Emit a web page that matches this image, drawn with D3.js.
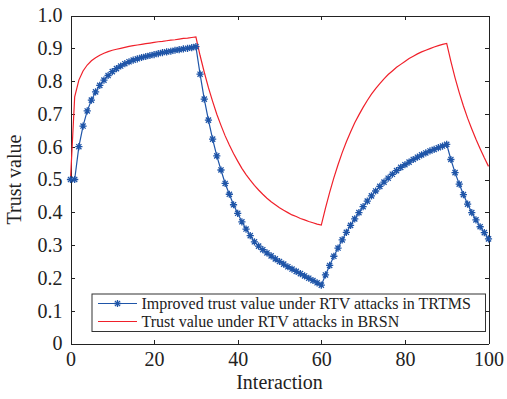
<!DOCTYPE html>
<meta charset="utf-8">
<style>
body { margin: 0; background: #fff; }
.axis text { font: 20px "Liberation Serif", "Times New Roman", serif; fill: #222; }
.axis path, .axis line { fill: none; stroke: #222; shape-rendering: crispEdges; }
.label { font: 20px "Liberation Serif", "Times New Roman", serif; fill: #222; }
.legend text { font: 16px "Liberation Serif", "Times New Roman", serif; fill: #222; }
</style>
<body>
<div id="chart"></div>
<script src="https://d3js.org/d3.v7.min.js"></script>
<script>
// interaction index 0..100
var interaction = d3.range(0, 101);

var improvedTrust = [
  0.500,0.500,0.600,0.663,0.709,0.742,0.767,0.787,0.803,0.817,0.829,0.838,0.846,0.853,0.859,0.864,
  0.868,0.872,0.875,0.878,0.881,0.884,0.887,0.889,0.891,0.894,0.896,0.898,0.900,0.902,0.905,
  0.821,0.745,0.681,0.623,0.572,0.529,0.488,0.455,0.423,0.397,0.371,0.349,0.329,0.310,0.297,
  0.286,0.276,0.267,0.258,0.250,0.242,0.234,0.227,0.220,0.213,0.206,0.199,0.192,0.185,0.178,
  0.209,0.238,0.266,0.291,0.316,0.339,0.360,0.380,0.399,0.417,0.434,0.450,0.465,0.479,0.492,
  0.504,0.516,0.527,0.537,0.545,0.553,0.561,0.568,0.575,0.581,0.587,0.592,0.597,0.602,0.607,
  0.561,0.521,0.486,0.454,0.425,0.399,0.377,0.356,0.338,0.319
];

var brsnTrust = [
  0.500,0.752,0.803,0.831,0.849,0.862,0.871,0.879,0.885,0.890,0.894,0.897,0.900,0.903,0.906,0.908,
  0.910,0.912,0.914,0.916,0.918,0.920,0.921,0.923,0.925,0.926,0.928,0.930,0.931,0.933,0.935,
  0.878,0.827,0.780,0.738,0.699,0.665,0.633,0.605,0.579,0.556,0.534,0.515,0.498,0.482,0.468,
  0.455,0.443,0.432,0.423,0.414,0.406,0.399,0.392,0.387,0.381,0.377,0.372,0.368,0.364,0.361,
  0.413,0.461,0.505,0.545,0.582,0.615,0.645,0.673,0.697,0.720,0.741,0.760,0.777,0.792,0.807,
  0.820,0.831,0.842,0.851,0.860,0.869,0.876,0.883,0.889,0.894,0.899,0.904,0.908,0.912,0.915,
  0.860,0.810,0.765,0.724,0.687,0.654,0.623,0.594,0.566,0.540
];

var xTicks = [0, 20, 40, 60, 80, 100];
var yTicks = [0, 0.1, 0.2, 0.3, 0.4, 0.5, 0.6, 0.7, 0.8, 0.9, 1.0];
var seriesNames = ["Improved trust value under RTV attacks in TRTMS", "Trust value under RTV attacks in BRSN"];

var blue = "#1f55a8", red = "#f0202a";

var margin = {top: 15.5, right: 18.5, bottom: 55.5, left: 70.5},
    width = 507 - margin.left - margin.right,
    height = 399 - margin.top - margin.bottom;

var svg = d3.select("#chart").append("svg")
    .attr("width", 507).attr("height", 399)
  .append("g")
    .attr("transform", "translate(" + margin.left + "," + margin.top + ")");

var x = d3.scaleLinear().domain([0, 100]).range([0, width]);
var y = d3.scaleLinear().domain([0, 1]).range([height, 0]);

var yFmt = function(d) { return d === 0 ? "0" : d.toFixed(1); };

// axes, ticks pointing inward
svg.append("g").attr("class", "axis")
    .attr("transform", "translate(0," + height + ")")
    .call(d3.axisBottom(x).tickValues(xTicks).tickSizeInner(-4).tickSizeOuter(0).tickPadding(8));
svg.append("g").attr("class", "axis")
    .call(d3.axisTop(x).tickValues(xTicks).tickSizeInner(-4).tickSizeOuter(0).tickFormat(""));
svg.append("g").attr("class", "axis")
    .call(d3.axisLeft(y).tickValues(yTicks).tickFormat(yFmt).tickSizeInner(-4).tickSizeOuter(0).tickPadding(8));
svg.append("g").attr("class", "axis")
    .attr("transform", "translate(" + width + ",0)")
    .call(d3.axisRight(y).tickValues(yTicks).tickSizeInner(-4).tickSizeOuter(0).tickFormat(""));

var line = d3.line()
    .x(function(d, i) { return x(interaction[i]); })
    .y(function(d) { return y(d); });

svg.append("path").datum(brsnTrust)
    .attr("fill", "none").attr("stroke", red).attr("stroke-width", 1.2)
    .attr("d", line);

svg.append("path").datum(improvedTrust)
    .attr("fill", "none").attr("stroke", blue).attr("stroke-width", 1.2)
    .attr("d", line);

// asterisk marker (plus + x)
var s = 3.6, t = s * 0.72;
var star = "M" + (-s) + ",0L" + s + ",0M0," + (-s) + "L0," + s +
           "M" + (-t) + "," + (-t) + "L" + t + "," + t + "M" + (-t) + "," + t + "L" + t + "," + (-t);

svg.selectAll(".mark")
    .data(improvedTrust)
  .enter().append("path")
    .attr("class", "mark")
    .attr("transform", function(d, i) { return "translate(" + x(interaction[i]) + "," + y(d) + ")"; })
    .attr("d", star)
    .attr("fill", "none").attr("stroke", blue).attr("stroke-width", 1.3);

// axis labels
svg.append("text").attr("class", "label")
    .attr("text-anchor", "middle")
    .attr("x", width / 2).attr("y", height + 45)
    .text("Interaction");
svg.append("text").attr("class", "label")
    .attr("text-anchor", "middle")
    .attr("transform", "translate(" + (-50) + "," + (height / 2) + ") rotate(-90)")
    .text("Trust value");

// legend
var lg = svg.append("g").attr("class", "legend")
    .attr("transform", "translate(" + (92 - margin.left) + "," + (294 - margin.top) + ")");
lg.append("rect").attr("width", 393.5).attr("height", 37.5)
    .attr("fill", "#fff").attr("stroke", "#333").attr("stroke-width", 1);
[blue, red].forEach(function(c, i) {
  var yy = 9.5 + i * 18;
  lg.append("line").attr("x1", 6).attr("x2", 45).attr("y1", yy).attr("y2", yy)
    .attr("stroke", c).attr("stroke-width", 1.2);
  if (i === 0) lg.append("path").attr("d", star)
      .attr("transform", "translate(25.5," + yy + ")")
      .attr("fill", "none").attr("stroke", c).attr("stroke-width", 1.3);
  lg.append("text").attr("x", 49.5).attr("y", yy).attr("dy", "0.33em").text(seriesNames[i]);
});
</script>
</body>
